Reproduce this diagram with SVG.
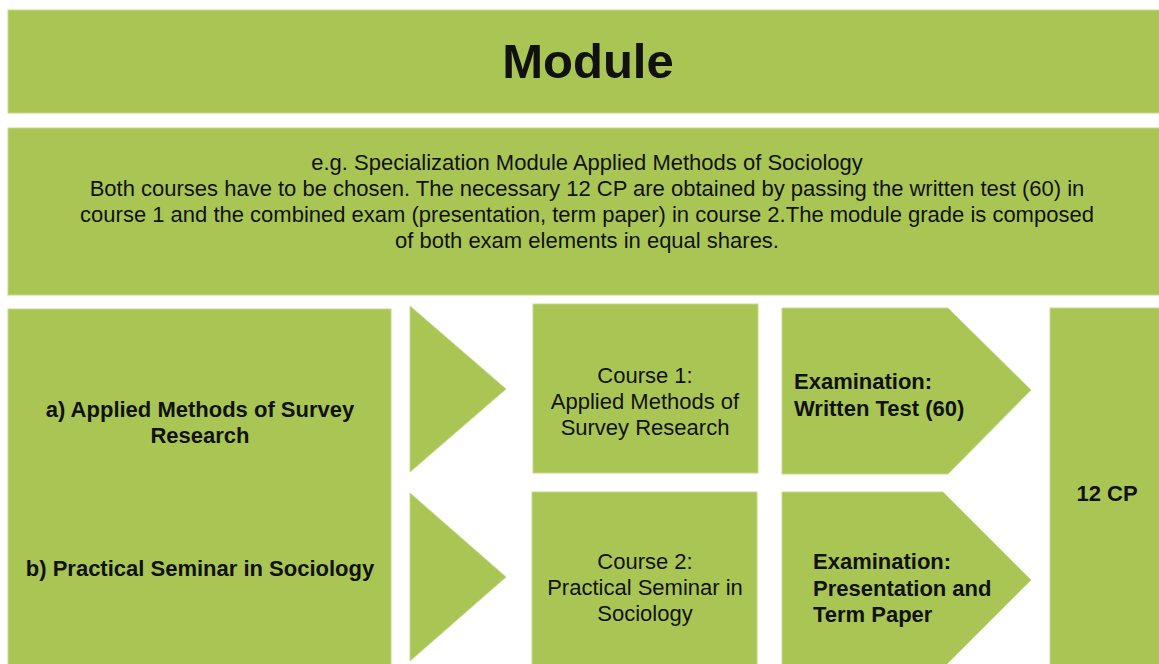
<svg xmlns="http://www.w3.org/2000/svg" width="1159" height="664" viewBox="0 0 1159 664">
<style>
.g{fill:#a9c654;stroke:#c4d98c;stroke-width:1}
text{font-family:"Liberation Sans",Arial,sans-serif;fill:#111}
.b{font-weight:bold;font-size:22px}
.r{font-size:22px}
.c{text-anchor:middle}
</style>
<rect width="1159" height="664" fill="#fff"/>
<g id="title"><rect class="g" x="8" y="10" width="1160" height="103"/><text x="588" y="78" class="c" style="font-weight:bold;font-size:49px">Module</text></g>
<g id="description"><rect class="g" x="8" y="128" width="1160" height="167"/>
<text class="r c" x="587"><tspan x="587" y="170">e.g. Specialization Module Applied Methods of Sociology</tspan><tspan x="587" y="196">Both courses have to be chosen. The necessary 12 CP are obtained by passing the written test (60) in</tspan><tspan x="587" y="222">course 1 and the combined exam (presentation, term paper) in course 2.The module grade is composed</tspan><tspan x="587" y="248">of both exam elements in equal shares.</tspan></text></g>
<g id="courses-list"><rect class="g" x="8" y="309" width="383" height="360"/>
<text class="b c"><tspan x="200" y="417">a) Applied Methods of Survey</tspan><tspan x="200" y="443">Research</tspan><tspan x="200" y="576">b) Practical Seminar in Sociology</tspan></text></g>
<g id="connectors">
<polygon class="g" points="410,306 506,389 410,472"/>
<polygon class="g" points="410,493 506,577 410,661"/>
</g>
<g id="course1"><rect class="g" x="533" y="304" width="225" height="169"/>
<text class="r c"><tspan x="645" y="383">Course 1:</tspan><tspan x="645" y="409">Applied Methods of</tspan><tspan x="645" y="435">Survey Research</tspan></text></g>
<g id="course2"><rect class="g" x="532" y="492" width="225" height="180"/>
<text class="r c"><tspan x="645" y="569">Course 2:</tspan><tspan x="645" y="595">Practical Seminar in</tspan><tspan x="645" y="621">Sociology</tspan></text></g>
<g id="exam1"><polygon class="g" points="782,308 948,308 1031,390 948,474 782,474"/>
<text class="b"><tspan x="794" y="389">Examination:</tspan><tspan x="794" y="416">Written Test (60)</tspan></text></g>
<g id="exam2"><polygon class="g" points="782,492 943,492 1031,580 943,668 782,668"/>
<text class="b"><tspan x="813" y="569">Examination:</tspan><tspan x="813" y="596">Presentation and</tspan><tspan x="813" y="622">Term Paper</tspan></text></g>
<g id="credits"><rect class="g" x="1050" y="308" width="120" height="360"/>
<text class="b c" x="1107" y="501">12 CP</text></g>
</svg>
